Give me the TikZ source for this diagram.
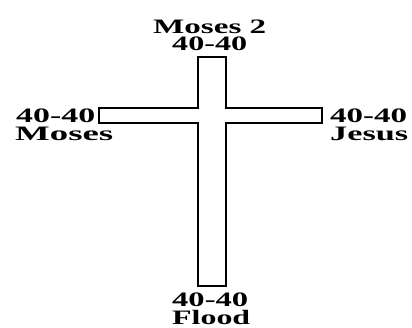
\documentclass[tikz,border=0pt]{standalone}
\usepackage{fontspec}
\setmainfont{Liberation Serif}
\newcommand{\fitw}[2]{\resizebox{#1pt}{\height}{#2}}
\begin{document}
\begin{tikzpicture}[x=1pt,y=1pt,
  lbl/.style={inner sep=0pt,font=\fontsize{20.5}{20.5}\selectfont\bfseries,anchor=base west},
  crossline/.style={line width=2.2pt,line join=miter}]
\useasboundingbox (0,0) rectangle (412,-327);
\draw[crossline] (198,-57) -- (226,-57) -- (226,-108) -- (322,-108) -- (322,-123)
  -- (226,-123) -- (226,-286) -- (198,-286) -- (198,-123) -- (99,-123)
  -- (99,-108) -- (198,-108) -- cycle;
\node[lbl] (top1) at (153,-33) {\fitw{113}{Moses 2}};
\node[lbl] (top2) at (172,-50) {\fitw{75}{40-40}};
\node[lbl] (left1) at (16,-122) {\fitw{79}{40-40}};
\node[lbl] (left2) at (15,-140) {\fitw{98}{Moses}};
\node[lbl] (right1) at (330,-122) {\fitw{77}{40-40}};
\node[lbl] (right2) at (330,-140) {\fitw{78}{Jesus}};
\node[lbl] (bot1) at (172,-306) {\fitw{76}{40-40}};
\node[lbl] (bot2) at (172,-324.5) {\fitw{78}{Flood}};
\end{tikzpicture}
\end{document}
